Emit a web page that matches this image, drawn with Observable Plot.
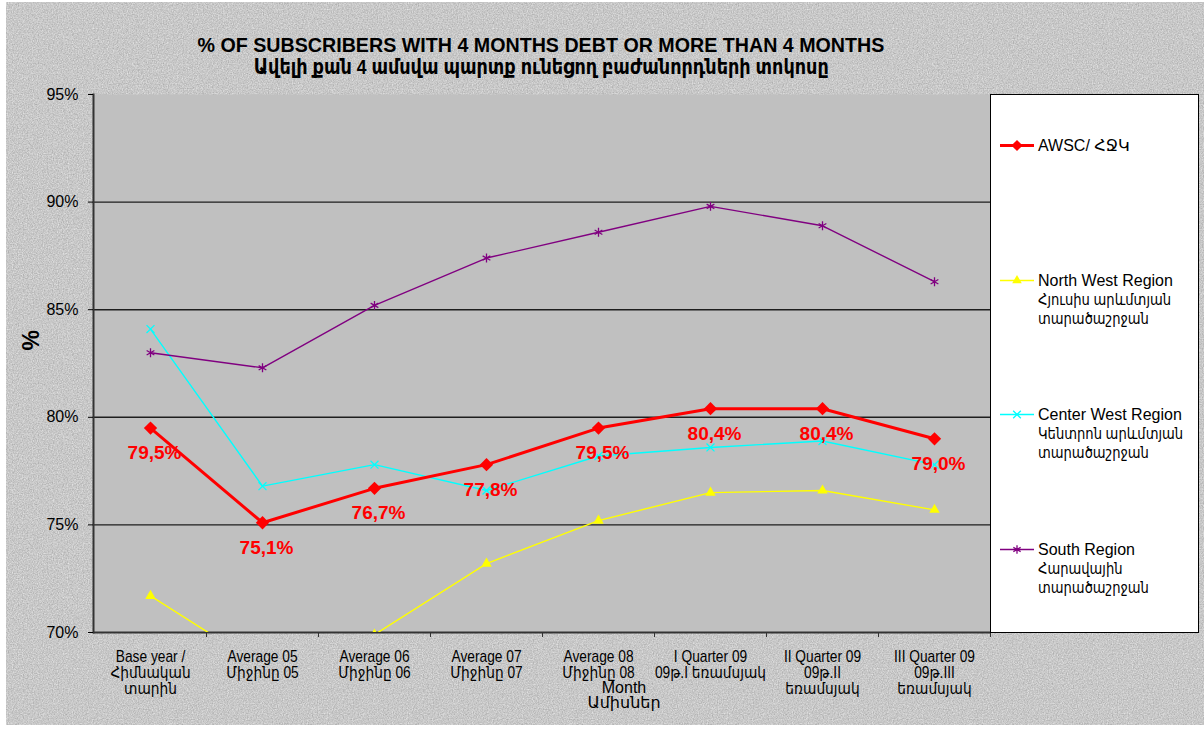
<!DOCTYPE html>
<html>
<head>
<meta charset="utf-8">
<script src="https://cdn.jsdelivr.net/npm/d3@7"></script>
<script src="https://cdn.jsdelivr.net/npm/@observablehq/plot@0.6"></script>
<style>
  html, body { margin: 0; padding: 0; background: #ffffff; }
  #wrap { position: relative; width: 1204px; height: 731px; overflow: hidden; background: #ffffff; }
  #bg { position: absolute; left: 6px; top: 2px; width: 1198px; height: 723px; background-color: #ebebeb; }
  #title { position: absolute; left: 0; top: 34px; width: 1082px; text-align: center;
    font-family: "Liberation Sans", "DejaVu Sans", sans-serif; font-weight: bold;
    font-size: 21px; line-height: 22px; color: #000; }
  #title span { display: inline-block; transform-origin: center; white-space: nowrap; }
  #t1 { transform: scaleX(0.936); }
  #t2 { transform: scaleX(0.84); }
  #chart { position: absolute; left: 0; top: 84px; }
  #legend { position: absolute; left: 990px; top: 94px; width: 207px; height: 537px;
    background: #fff; border: 1px solid #000; font-family: "Liberation Sans", "DejaVu Sans", sans-serif;
    font-size: 16px; line-height: 19px; color: #000; }
  .entry { position: absolute; left: 0; width: 207px; }
  .entry svg { position: absolute; left: 9px; top: 0; }
  .entry .txt { position: absolute; left: 47px; top: 0; }
  .entry .ln { white-space: nowrap; height: 19px; }
  .entry .arm { transform: scaleX(0.82); transform-origin: left center; }
</style>
</head>
<body>
<div id="wrap">
  <div id="bg"></div>
  <div id="title"><span id="t1">% OF SUBSCRIBERS WITH 4 MONTHS DEBT OR MORE THAN 4 MONTHS</span><br><span id="t2">Ավելի քան 4 ամսվա պարտք ունեցող բաժանորդների տոկոսը</span></div>
  <div id="chart"></div>
  <div id="legend"></div>
</div>
<script>
// ---- data ----
const categories = ["Base year", "Average 05", "Average 06", "Average 07", "Average 08", "I Quarter 09", "II Quarter 09", "III Quarter 09"];
const tickLabels = [
  "Base year /\nՀիմնական\nտարին",
  "Average 05\nՄիջինը 05",
  "Average 06\nՄիջինը 06",
  "Average 07\nՄիջինը 07",
  "Average 08\nՄիջինը 08",
  "I Quarter 09\n09թ.I եռամսյակ",
  "II Quarter 09\n09թ.II\nեռամսյակ",
  "III Quarter 09\n09թ.III\nեռամսյակ"
];
const awsc       = [79.5, 75.1, 76.7, 77.8, 79.5, 80.4, 80.4, 79.0];
const northWest  = [71.7, 68.4, 69.9, 73.2, 75.2, 76.5, 76.6, 75.7];
const centerWest = [84.1, 76.8, 77.8, 76.6, 78.2, 78.6, 78.9, 77.8];
const south      = [83.0, 82.3, 85.2, 87.4, 88.6, 89.8, 88.9, 86.3];
const yTicks = [70, 75, 80, 85, 90, 95];
const legendNames = [
  "AWSC/ ՀՋԿ",
  "North West Region\nՀյուսիս արևմտյան\nտարածաշրջան",
  "Center West Region\nԿենտրոն արևմտյան\nտարածաշրջան",
  "South Region\nՀարավային\nտարածաշրջան"
];
const xAxisTitle = "Month\nԱմիսներ";
const yAxisTitle = "%";

// ---- background texture ----
const noiseSvg = "<svg xmlns='http://www.w3.org/2000/svg' width='400' height='400'><filter id='n'><feTurbulence type='fractalNoise' baseFrequency='0.8' numOctaves='3' stitchTiles='stitch'/><feColorMatrix type='matrix' values='0 0 0 0 0  0 0 0 0 0  0 0 0 0 0  0 0 0 0.3 0'/></filter><rect width='100%' height='100%' filter='url(#n)'/></svg>";
document.getElementById("bg").style.backgroundImage = `url("data:image/svg+xml,${encodeURIComponent(noiseSvg)}")`;

// ---- rows ----
const rows = (vals) => categories.map((c, i) => ({cat: c, value: vals[i]}));
const awscRows = rows(awsc), nwRows = rows(northWest), cwRows = rows(centerWest), sRows = rows(south);
const fmtPct = v => v.toFixed(1).replace(".", ",") + "%";

const sans = "'Liberation Sans', 'DejaVu Sans', sans-serif";
const RED = "#ff0000", YEL = "#ffff00", CYA = "#00ffff", PUR = "#800080";

const chart = Plot.plot({
  width: 1204,
  height: 647,
  marginTop: 10,
  marginRight: 214,
  marginBottom: 99,
  marginLeft: 93,
  style: {background: "transparent", fontFamily: sans, fontSize: "16px", color: "#000", overflow: "visible"},
  x: {type: "point", domain: categories, padding: 0.5},
  y: {domain: [70, 95]},
  marks: [
    Plot.frame({fill: "#c0c0c0", stroke: null}),
    Plot.ruleY([75, 80, 85, 90], {stroke: "#1e1e1e", strokeWidth: 1.4}),
    Plot.frame({anchor: "left", stroke: "#333", strokeWidth: 2}),
    Plot.ruleY([70], {stroke: "#333", strokeWidth: 2}),
    Plot.axisY({ticks: yTicks, tickFormat: d => d + "%", tickSize: 5, tickPadding: 10, label: null, fontSize: 16, stroke: "#000"}),
    Plot.axisX({tickSize: 5, tickFormat: () => "", dx: 56, label: null, stroke: "#333"}),
    Plot.axisX({tickSize: 0, tickPadding: 18, tickFormat: d => tickLabels[categories.indexOf(d)], label: null, fontSize: 16, lineHeight: 1}),
    // North West (yellow)
    Plot.line(nwRows, {x: "cat", y: "value", stroke: YEL, strokeWidth: 1.4, clip: true}),
    Plot.dot(nwRows, {x: "cat", y: "value", symbol: "triangle", fill: YEL, r: 3.9, clip: true}),
    // Center West (cyan)
    Plot.line(cwRows, {x: "cat", y: "value", stroke: CYA, strokeWidth: 1.4, clip: true}),
    Plot.dot(cwRows, {x: "cat", y: "value", symbol: "times", stroke: CYA, strokeWidth: 1.3, r: 3.7, clip: true}),
    // South (purple)
    Plot.line(sRows, {x: "cat", y: "value", stroke: PUR, strokeWidth: 1.4, clip: true}),
    Plot.dot(sRows, {x: "cat", y: "value", symbol: "asterisk", stroke: PUR, strokeWidth: 1.3, r: 4.2, clip: true}),
    // AWSC (red)
    Plot.line(awscRows, {x: "cat", y: "value", stroke: RED, strokeWidth: 3, clip: true}),
    Plot.dot(awscRows, {x: "cat", y: "value", symbol: "diamond2", fill: RED, r: 6, clip: true}),
    Plot.text(awscRows, {x: "cat", y: "value", text: d => fmtPct(d.value), fill: RED, fontWeight: "bold", fontSize: 19, dy: 25, dx: 4}),
    // axis titles
    Plot.text([xAxisTitle], {frameAnchor: "bottom", dx: 82, dy: 50, lineAnchor: "top", fontSize: 16, lineHeight: 0.95, ariaLabel: "month-title"}),
    Plot.text([yAxisTitle], {frameAnchor: "left", dx: -62, dy: -13, rotate: -90, fontWeight: "bold", fontSize: 23})
  ]
});
document.getElementById("chart").appendChild(chart);

// narrow (Arial Narrow-like) rendering of category labels
const narrowTexts = new Set([
  ...chart.querySelectorAll('g[aria-label="x-axis tick label"] text'),
  ...chart.querySelectorAll('[aria-label="month-title"] text'),
  ...chart.querySelectorAll('text[aria-label="month-title"]')
]);
narrowTexts.forEach(el => {
  const t = el.getAttribute("transform");
  if (t) {
    el.setAttribute("transform", t + " scale(0.86,1)");
  } else {
    const x = +(el.getAttribute("x") || 0), y = +(el.getAttribute("y") || 0);
    el.removeAttribute("x"); el.removeAttribute("y");
    el.setAttribute("transform", `translate(${x},${y}) scale(0.86,1)`);
  }
});

// ---- legend ----
const legendSymbols = [
  {sym: d3.symbolDiamond2, size: 80, color: RED, fill: true, w: 3},
  {sym: d3.symbolTriangle, size: 40, color: YEL, fill: true, w: 1.4},
  {sym: d3.symbolTimes, size: 40, color: CYA, fill: false, w: 1.3},
  {sym: d3.symbolAsterisk, size: 50, color: PUR, fill: false, w: 1.3}
];
const legend = d3.select("#legend");
legendNames.forEach((name, i) => {
  const s = legendSymbols[i];
  const e = legend.append("div").attr("class", "entry").style("top", (41 + i * 134.7) + "px");
  const svg = e.append("svg").attr("width", 36).attr("height", 19);
  svg.append("line").attr("x1", 0).attr("x2", 34).attr("y1", 9.5).attr("y2", 9.5)
    .attr("stroke", s.color).attr("stroke-width", s.w);
  svg.append("path").attr("transform", "translate(17,9.5)")
    .attr("d", d3.symbol(s.sym, s.size)())
    .attr("fill", s.fill ? s.color : "none")
    .attr("stroke", s.fill ? "none" : s.color).attr("stroke-width", 1.3);
  const txt = e.append("div").attr("class", "txt");
  name.split("\n").forEach(line => {
    const armenianOnly = /[\u0530-\u058F]/.test(line) && !/[A-Za-z]/.test(line);
    txt.append("div").attr("class", "ln" + (armenianOnly ? " arm" : "")).text(line);
  });
});
</script>
</body>
</html>
